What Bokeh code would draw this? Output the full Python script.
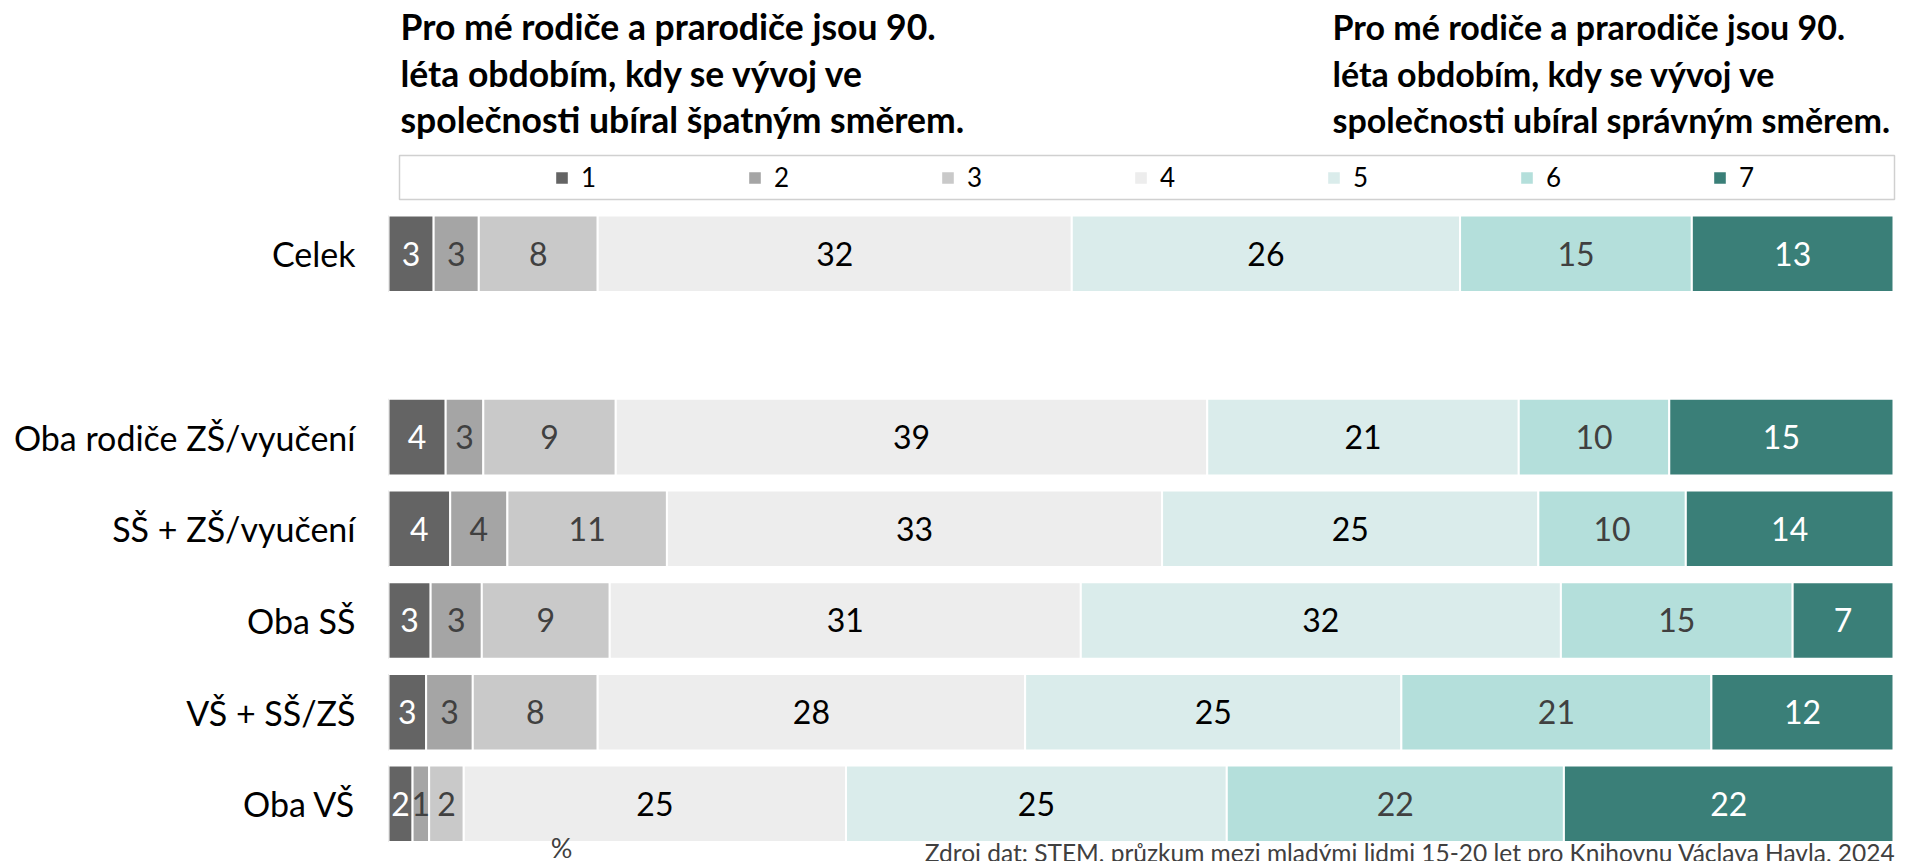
from bokeh.plotting import figure
from bokeh.models import ColumnDataSource, Range1d, FixedTicker, Legend, LegendItem
from bokeh.core.properties import value
from bokeh.embed import file_html
from bokeh.resources import INLINE

# ---------------- data ----------------
categories = ["Celek", "Oba rodiče ZŠ/vyučení", "SŠ + ZŠ/vyučení", "Oba SŠ", "VŠ + SŠ/ZŠ", "Oba VŠ"]
series_names = ["1", "2", "3", "4", "5", "6", "7"]

# shares in % (bar widths)
s1 = [3.0, 3.8, 4.1, 2.8, 2.5, 1.6]
s2 = [3.0, 2.5, 3.8, 3.4, 3.1, 1.1]
s3 = [7.9, 8.8, 10.6, 8.5, 8.3, 2.3]
s4 = [31.5, 39.3, 32.9, 31.3, 28.4, 25.4]
s5 = [25.8, 20.7, 25.0, 31.9, 25.0, 25.3]
s6 = [15.4, 10.0, 9.8, 15.4, 20.6, 22.4]
s7 = [13.4, 14.9, 13.8, 6.7, 12.1, 21.9]

# printed labels
labels1 = [3, 4, 4, 3, 3, 2]
labels2 = [3, 3, 4, 3, 3, 1]
labels3 = [8, 9, 11, 9, 8, 2]
labels4 = [32, 39, 33, 31, 28, 25]
labels5 = [26, 21, 25, 32, 25, 25]
labels6 = [15, 10, 10, 15, 21, 22]
labels7 = [13, 15, 14, 7, 12, 22]

title_left = ["Pro mé rodiče a prarodiče jsou 90.",
              "léta obdobím, kdy se vývoj ve",
              "společnosti ubíral špatným směrem."]
title_right = ["Pro mé rodiče a prarodiče jsou 90.",
               "léta obdobím, kdy se vývoj ve",
               "společnosti ubíral správným směrem."]
unit_note = "%"
source_note = "Zdroj dat: STEM, průzkum mezi mladými lidmi 15-20 let pro Knihovnu Václava Havla, 2024"

# ---------------- styles / layout ----------------
colors = ["#646464", "#a5a5a5", "#c9c9c9", "#ededed", "#daeceb", "#b4dfdb", "#3a7f78"]
label_colors = ["#ffffff", "#404040", "#404040", "#000000", "#000000", "#404040", "#ffffff"]
FONT = "Lato"

W, H = 1911, 861
FL, FR = 388, 1911
PX_PER_PCT = 15.05
ROW_PX = 91.67
TOP_ROW_PY = 253.3
# slot layout top to bottom (None = empty gap row)
slots = ["Celek", None, "Oba rodiče ZŠ/vyučení", "SŠ + ZŠ/vyučení", "Oba SŠ", "VŠ + SŠ/ZŠ", "Oba VŠ"]
n_top = len(slots) - 1
slot_y = {c: n_top - i for i, c in enumerate(slots) if c is not None}


def X(px):
    return (px - FL) / PX_PER_PCT


def Y(py):
    return n_top - (py - TOP_ROW_PY) / ROW_PX


p = figure(width=W, height=H, title=None,
           x_range=Range1d(0, X(FR)), y_range=Range1d(Y(H), Y(0)),
           output_backend="svg", toolbar_location=None, x_axis_location=None,
           min_border_left=FL, min_border_right=W - FR, min_border_top=0, min_border_bottom=0,
           outline_line_color=None, background_fill_color="white", border_fill_color="white")
p.xgrid.visible = False
p.ygrid.visible = False

series = [s1, s2, s3, s4, s5, s6, s7]
labels = [labels1, labels2, labels3, labels4, labels5, labels6, labels7]
keys = ["s%d" % (i + 1) for i in range(7)]
data = {"y": [slot_y[c] for c in categories]}
for k, s in zip(keys, series):
    data[k] = s
src = ColumnDataSource(data)

renderers = p.hbar_stack(keys, y="y", height=0.835, fill_color=colors,
                         line_color="white", line_width=2, source=src)

# value labels
tx, ty, tt, tc = [], [], [], []
for r, c in enumerate(categories):
    left = 0.0
    for j in range(7):
        v = series[j][r]
        tx.append(left + v / 2.0)
        ty.append(slot_y[c])
        tt.append(str(labels[j][r]))
        tc.append(label_colors[j])
        left += v
p.text(x="x", y="y", text="t", text_color="c",
       source=ColumnDataSource(dict(x=tx, y=ty, t=tt, c=tc)),
       text_font=value(FONT), text_font_size="32px",
       text_align="center", text_baseline="middle")

# y axis with category names
p.yaxis.ticker = FixedTicker(ticks=[slot_y[c] for c in categories])
p.yaxis.major_label_overrides = {slot_y[c]: c for c in categories}
p.yaxis.major_label_text_font = FONT
p.yaxis.major_label_text_font_size = "34px"
p.yaxis.major_label_text_color = "#000000"
p.yaxis.major_label_standoff = 27
p.yaxis.axis_line_color = None
p.yaxis.major_tick_line_color = None
p.yaxis.minor_tick_line_color = None

# headings
title_py = [26, 72.5, 119]
p.text(x=[X(400)] * 3, y=[Y(v) for v in title_py], text=title_left,
       text_font=value(FONT), text_font_style="bold", text_font_size="35.5px",
       text_color="#000000", text_align="left", text_baseline="middle")
p.text(x=[X(1332)] * 3, y=[Y(v) for v in title_py], text=title_right,
       text_font=value(FONT), text_font_style="bold", text_font_size="34px",
       text_color="#000000", text_align="left", text_baseline="middle")

# legend frame
p.quad(left=[X(399)], right=[X(1894)], top=[Y(155)], bottom=[Y(199)],
       fill_color=None, line_color="#d0d0d0", line_width=1.5)

legend = Legend(items=[LegendItem(label=n, renderers=[r]) for n, r in zip(series_names, renderers)],
                orientation="horizontal", location=(165, H - 193),
                glyph_width=17, glyph_height=17, label_standoff=11, label_width=20,
                spacing=145, padding=0, margin=0,
                border_line_color=None, background_fill_alpha=0,
                label_text_font=FONT, label_text_font_size="26px", label_text_color="#000000")
p.add_layout(legend)

# footnotes
p.text(x=[X(561)], y=[Y(847)], text=[unit_note], text_font=value(FONT), text_font_size="27px",
       text_color="#404040", text_align="center", text_baseline="middle")
p.text(x=[X(1895)], y=[Y(851.5)], text=[source_note], text_font=value(FONT), text_font_size="24.5px",
       text_color="#404040", text_align="right", text_baseline="middle")

open("out.html", "w").write(file_html(p, INLINE, title="Graf"))
